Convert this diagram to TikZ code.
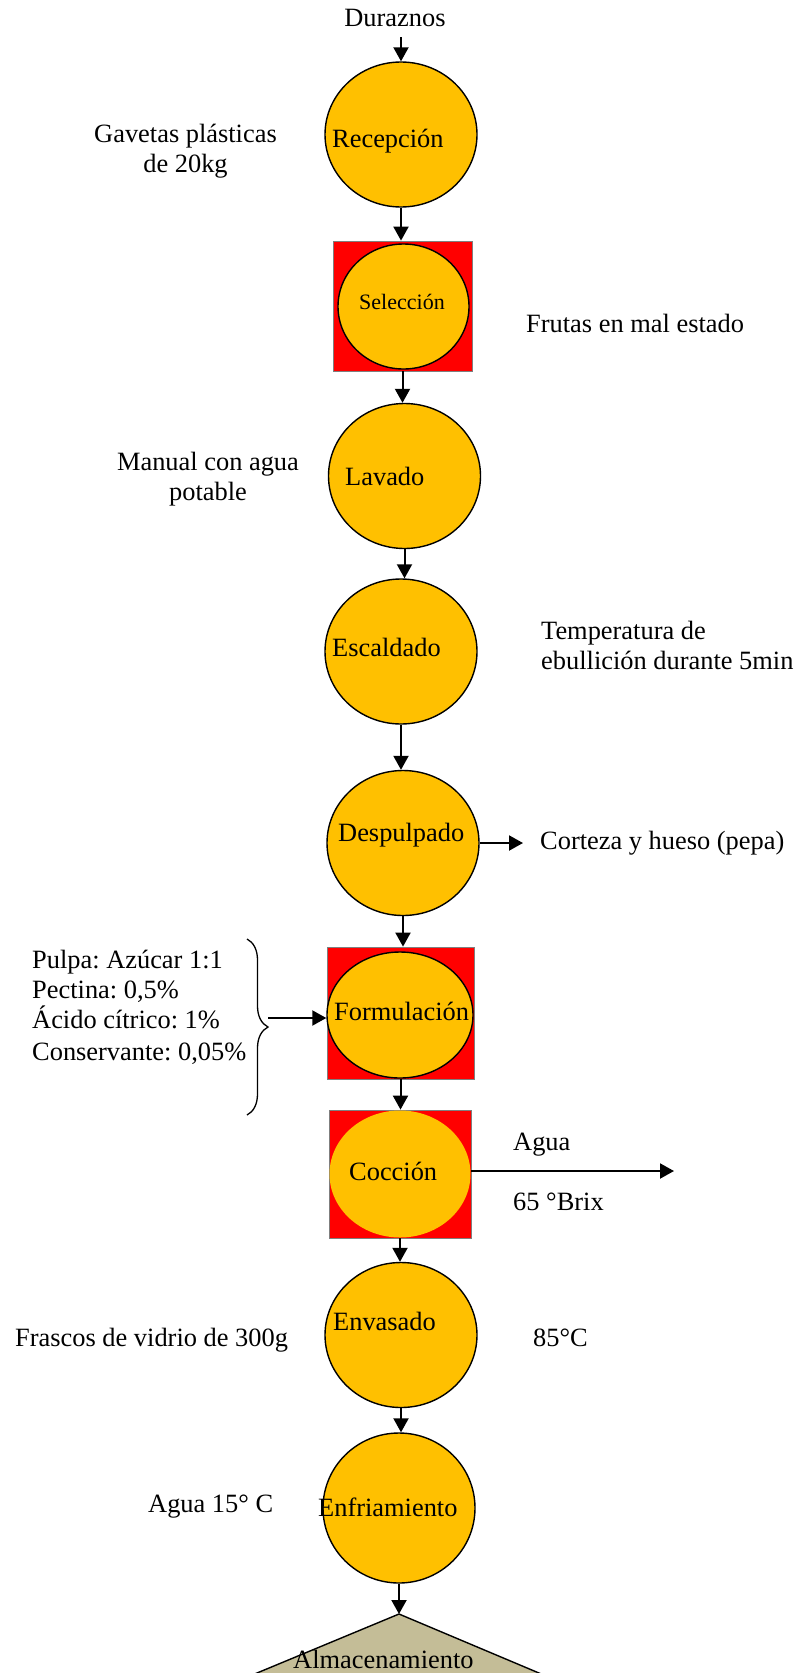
\documentclass[tikz,border=0pt]{standalone}
\usepackage{fontspec}
\setmainfont{Liberation Serif}
\usetikzlibrary{shapes.geometric,arrows.meta,decorations.pathreplacing}
\definecolor{procgold}{HTML}{FFC000}
\definecolor{storetan}{HTML}{C4BD97}
\definecolor{edgegray}{HTML}{7F7F7F}
\frenchspacing
\begin{document}
\begin{tikzpicture}[x=1pt,y=-1pt,
  font=\fontsize{26.4}{30}\selectfont,
  proc/.style={ellipse,draw=black,line width=1.4pt,fill=procgold,inner sep=0pt,
    minimum width=152pt,minimum height=145pt},
  frame/.style={rectangle,draw=edgegray,line width=0.8pt,fill=red,inner sep=0pt},
  lbl/.style={inner sep=0pt,anchor=base west},
  clbl/.style={inner sep=0pt,anchor=base},
  arr/.style={-{Triangle[length=14pt,width=15pt]},line width=2pt},
]
\useasboundingbox (0,0) rectangle (800,1673);
\clip (0,0) rectangle (800,1673);

% ---- main column of process steps ----
\node[proc] (rec) at (401,134.5) {};
\node[frame,minimum width=139pt,minimum height=130pt] (selsq) at (402.5,306) {};
\node[proc,minimum width=131pt,minimum height=125pt] (sel) at (403.5,306.5) {};
\node[proc] (lav) at (404.5,476) {};
\node[proc] (esc) at (401,651.5) {};
\node[proc] (desp) at (403,843) {};
\node[frame,minimum width=147pt,minimum height=132pt] (formsq) at (400.5,1013) {};
\node[proc,minimum width=146pt,minimum height=126pt] (form) at (400,1015) {};
\node[frame,minimum width=142pt,minimum height=128pt] (cocsq) at (400,1174) {};
\node[proc,draw=none,minimum width=141pt,minimum height=127pt] (coc) at (400,1174) {};
\node[proc] (env) at (401,1335) {};
\node[proc,minimum height=150pt] (enf) at (399,1508) {};

% storage triangle, running past the lower edge
\coordinate (almtop) at (399,1614);
\filldraw[fill=storetan,draw=black,line width=1.4pt]
  (almtop) -- (603,1700) -- (192,1700) -- cycle;

% ---- step names ----
\node[lbl] (trec) at (332,147) {Recepción};
\node[clbl,font=\fontsize{22}{26}\selectfont] (tsel) at (402,309) {Selección};
\node[lbl] (tlav) at (345,485) {Lavado};
\node[lbl] (tesc) at (332,656) {Escaldado};
\node[lbl] (tdesp) at (338,841) {Despulpado};
\node[lbl] (tform) at (334,1020) {Formulación};
\node[lbl] (tcoc) at (349,1180) {Cocción};
\node[lbl] (tenv) at (333,1330) {Envasado};
\node[lbl] (tenf) at (318,1516) {Enfriamiento};
\node[lbl] (talm) at (293,1668) {Almacenamiento};

% ---- side notes ----
\node[clbl] (dur) at (395,27) {Duraznos};
\node[clbl] (gav1) at (185.5,142) {Gavetas plásticas};
\node[clbl] (gav2) at (185.5,172) {de 20kg};
\node[lbl] (frut) at (526,332) {Frutas en mal estado};
\node[clbl] (man1) at (208,470) {Manual con agua};
\node[clbl] (man2) at (208,500) {potable};
\node[lbl] (temp1) at (541,639) {Temperatura de};
\node[lbl] (temp2) at (541,669) {ebullición durante 5min};
\node[lbl] (cort) at (540,849) {Corteza y hueso (pepa)};
\node[lbl] (ing1) at (32,968) {Pulpa: Azúcar 1:1};
\node[lbl] (ing2) at (32,998) {Pectina: 0,5\%};
\node[lbl] (ing3) at (32,1028) {Ácido cítrico: 1\%};
\node[lbl] (ing4) at (32,1060) {Conservante: 0,05\%};
\node[lbl] (agua) at (513,1150) {Agua};
\node[lbl] (brix) at (513,1210) {65 °Brix};
\node[lbl] (fras) at (15,1346) {Frascos de vidrio de 300g};
\node[lbl] (temp85) at (533,1346) {85°C};
\node[lbl] (enfagua) at (148,1512) {Agua 15° C};

% brace gathering the ingredients
\draw[decorate,decoration={brace,amplitude=21pt},line width=1.3pt]
  (247,939) -- (247,1115);
\coordinate (ingin) at (268,1018);
\coordinate (cocout) at (674,1171);

% ---- connectors ----
\draw[arr,shorten <=10pt] (dur.south -| rec.north) -- (rec.north);
\draw[arr] (rec.south) -- (rec.south |- selsq.north);
\draw[arr] (selsq.south) -- (selsq.south |- lav.north);
\draw[arr] (lav.south) -- (lav.south |- esc.north);
\draw[arr] (esc.south) -- (esc.south |- desp.north);
\draw[arr] (desp.south) -- (desp.south |- formsq.north);
\draw[arr] (formsq.south) -- (formsq.south |- cocsq.north);
\draw[arr] (cocsq.south) -- (cocsq.south |- env.north);
\draw[arr] (env.south) -- (env.south |- enf.north);
\draw[arr] (enf.south) -- (enf.south |- almtop);
\draw[arr,shorten >=17pt] (desp.east) -- (desp.east -| cort.west);
\draw[arr] (ingin) -- (form.west |- ingin);
\draw[arr] (coc.east |- cocout) -- (cocout);
\end{tikzpicture}
\end{document}
